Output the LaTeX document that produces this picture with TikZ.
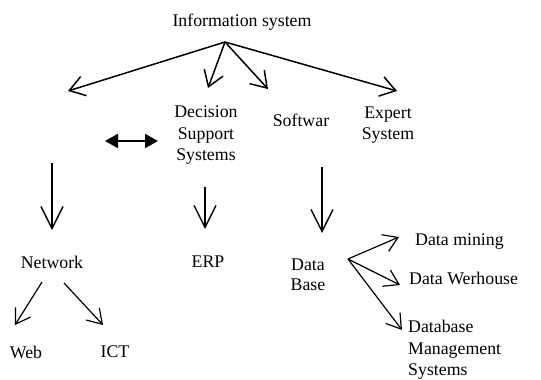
\documentclass[tikz,border=0pt]{standalone}
\usepackage{fontspec}
\setmainfont{Liberation Serif}
\usetikzlibrary{arrows.meta}
\begin{document}
\begin{tikzpicture}[x=1pt,y=-1pt,
  lbl/.style={inner sep=0pt, font=\fontsize{17.8}{21.5}\selectfont},
  arr/.style={line width=1.5pt, line join=miter,
    -{Straight Barb[length=15pt,width=20pt,line width=1.5pt]}},
  downarr/.style={line width=1.4pt,
    -{Straight Barb[length=22pt,width=22pt,line width=1.4pt]}},
  arrlight/.style={line width=1.2pt,
    -{Straight Barb[length=14pt,width=18pt,line width=1.2pt]}},
  dbl/.style={line width=2pt,
    {Triangle[length=13pt,width=14pt]}-{Triangle[length=13pt,width=14pt]}}]
\useasboundingbox (0,0) rectangle (541,380);

% labels
\node[lbl] (is)   at (242,22)  {Information system};
\node[lbl, align=center] (dss) at (206,135.5) {Decision\\Support\\Systems};
\node[lbl] (sw)   at (301,120) {Softwar};
\node[lbl, align=center] (es) at (388,125) {Expert\\System};
\node[lbl] (net)  at (52,262)  {Network};
\node[lbl] (erp)  at (208,262) {ERP};
\node[lbl, align=center, font=\fontsize{17.8}{20}\selectfont] (db) at (308,275) {Data\\Base};
\node[lbl] (web)  at (26,352)  {Web};
\node[lbl] (ict)  at (115,352) {ICT};
\node[lbl, anchor=west] (dm)  at (415,242) {Data mining};
\node[lbl, anchor=west] (dw)  at (409,278) {Data Werhouse};
\node[lbl, anchor=west, align=left] (dbms) at (408,350) {Database\\Management\\Systems};

% connector end points
\coordinate (isout) at (225,42);
\coordinate (tnet) at (68,91);
\coordinate (tdss) at (208,88);
\coordinate (tsw)  at (268,89);
\coordinate (tes)  at (397,91);
\coordinate (netin)  at (52,163);
\coordinate (netend) at (52,230);
\coordinate (erpin)  at (205,187);
\coordinate (erpend) at (205,229);
\coordinate (dbin)   at (322,167);
\coordinate (dbend)  at (322,233);
\coordinate (webst) at (42,282);
\coordinate (webend) at (15,325);
\coordinate (ictst) at (64,283);
\coordinate (ictend) at (103,325);
\coordinate (dbout) at (348,259);
\coordinate (dmend) at (399,237);
\coordinate (dwend) at (400,285);
\coordinate (dbmsend) at (402,330);
\coordinate (dl) at (105,141);
\coordinate (dr) at (158,141);

% branches from the root
\draw[arr] (isout) -- (tnet);
\draw[arr] (isout) -- (tdss);
\draw[arr] (isout) -- (tsw);
\draw[arr] (isout) -- (tes);

% two-way link
\draw[dbl] (dl) -- (dr);

% downward links
\draw[downarr] (netin) -- (netend);
\draw[downarr] (erpin) -- (erpend);
\draw[downarr] (dbin) -- (dbend);

% lower branches
\draw[arrlight] (webst) -- (webend);
\draw[arrlight] (ictst) -- (ictend);
\draw[arrlight] (dbout) -- (dmend);
\draw[arrlight] (dbout) -- (dwend);
\draw[arrlight] (dbout) -- (dbmsend);
\end{tikzpicture}
\end{document}
